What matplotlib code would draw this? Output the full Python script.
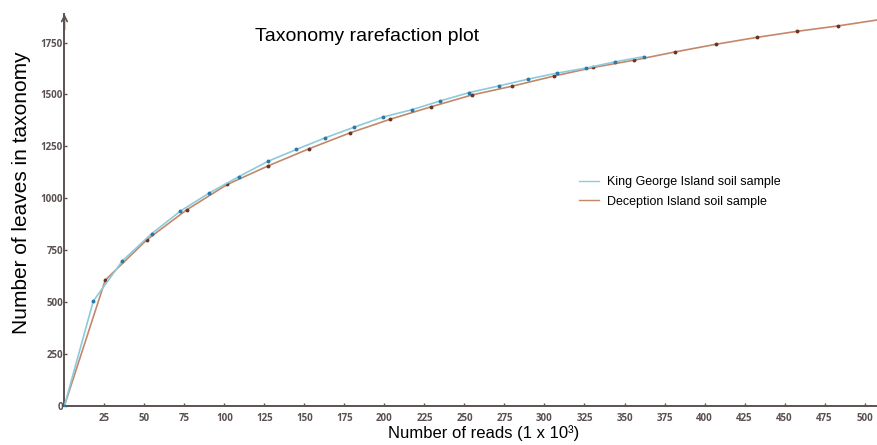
import matplotlib as mpl
mpl.use('Agg')
import matplotlib.pyplot as plt
import numpy as np

# King George Island soil sample (reads in thousands, leaves)
reads_kg = [0, 18, 36.2, 54.5, 72.5, 90.5, 109, 127, 145, 163, 181, 199,
            217, 235, 253, 271.5, 290, 308, 326, 344, 362]
leaves_kg = [0, 504, 698, 829, 938, 1025, 1104, 1177, 1235, 1291, 1342, 1391,
             1426, 1469, 1509, 1541, 1574, 1603, 1627, 1657, 1682]

# Deception Island soil sample
reads_dec = [0, 25.5, 51.4, 76.4, 101.7, 127.4, 152.8, 178.2, 203.4, 229,
             254.5, 280, 305.7, 330.5, 356, 381.8, 407.4, 432.8, 457.8, 483.4, 509]
leaves_dec = [0, 605, 799, 944, 1066, 1156, 1238, 1314, 1380, 1440,
              1497, 1540, 1588, 1630, 1665, 1705, 1742, 1775, 1804, 1830, 1860]

xticks = np.arange(25, 501, 25)
yticks = np.arange(0, 1751, 250)

axis_col = '#5c5350'
tick_col = '#5a5050'
kg_line, kg_mark = '#8ccbdc', '#2b79a8'
dec_line, dec_mark = '#c4876a', '#6b3526'

mpl.rcParams.update({'font.family': ['Liberation Sans', 'DejaVu Sans']})

fig = plt.figure(figsize=(8.77, 4.45), dpi=100)
ax = fig.add_axes([0.0735, 0.0883, 0.9265, 0.880])

ax.plot(reads_dec, leaves_dec, color=dec_line, lw=1.2, marker='o', ms=1.8,
        mfc=dec_mark, mec=dec_mark, label='Deception Island soil sample', zorder=2)
ax.plot(reads_kg, leaves_kg, color=kg_line, lw=1.2, marker='o', ms=1.8,
        mfc=kg_mark, mec=kg_mark, label='King George Island soil sample', zorder=3)

ax.set_xlim(0, 507.8)
ax.set_ylim(0, 1887)

for s in ['top', 'right']:
    ax.spines[s].set_visible(False)
for s in ['left', 'bottom']:
    ax.spines[s].set_color(axis_col)
    ax.spines[s].set_linewidth(1.4)

ax.annotate('', xy=(0, 1.0), xytext=(0, 0.96), xycoords='axes fraction',
            arrowprops=dict(arrowstyle='->', color=axis_col, lw=1.2,
                            shrinkA=0, shrinkB=0), annotation_clip=False)

ax.set_xticks(xticks)
ax.set_yticks(yticks)
ax.tick_params(axis='both', direction='in', length=2.5, width=1,
               color=axis_col, labelcolor=tick_col, labelsize=7)
ax.tick_params(axis='x', pad=5)
ax.tick_params(axis='y', pad=1)
for lbl in ax.get_xticklabels() + ax.get_yticklabels():
    lbl.set_fontfamily('Open Sans')
    lbl.set_fontweight('bold')

fig.text(0.024, 0.566, 'Number of leaves in taxonomy', rotation=90,
         ha='center', va='center', fontsize=15)
fig.text(0.551, 0.026, 'Number of reads (1 x 10\u00b3)', ha='center',
         va='center', fontsize=12)
fig.text(0.291, 0.918, 'Taxonomy rarefaction plot', ha='left', va='center',
         fontsize=14)

handles, labels = ax.get_legend_handles_labels()
leg = ax.legend(handles[::-1], labels[::-1], loc='upper left',
                bbox_to_anchor=(0.62, 0.615), frameon=False, fontsize=9,
                handlelength=1.6, handletextpad=0.6, labelspacing=0.6)
for h in leg.get_lines():
    h.set_marker('')
    h.set_linewidth(1.0)

fig.savefig('out.png', dpi=100)
